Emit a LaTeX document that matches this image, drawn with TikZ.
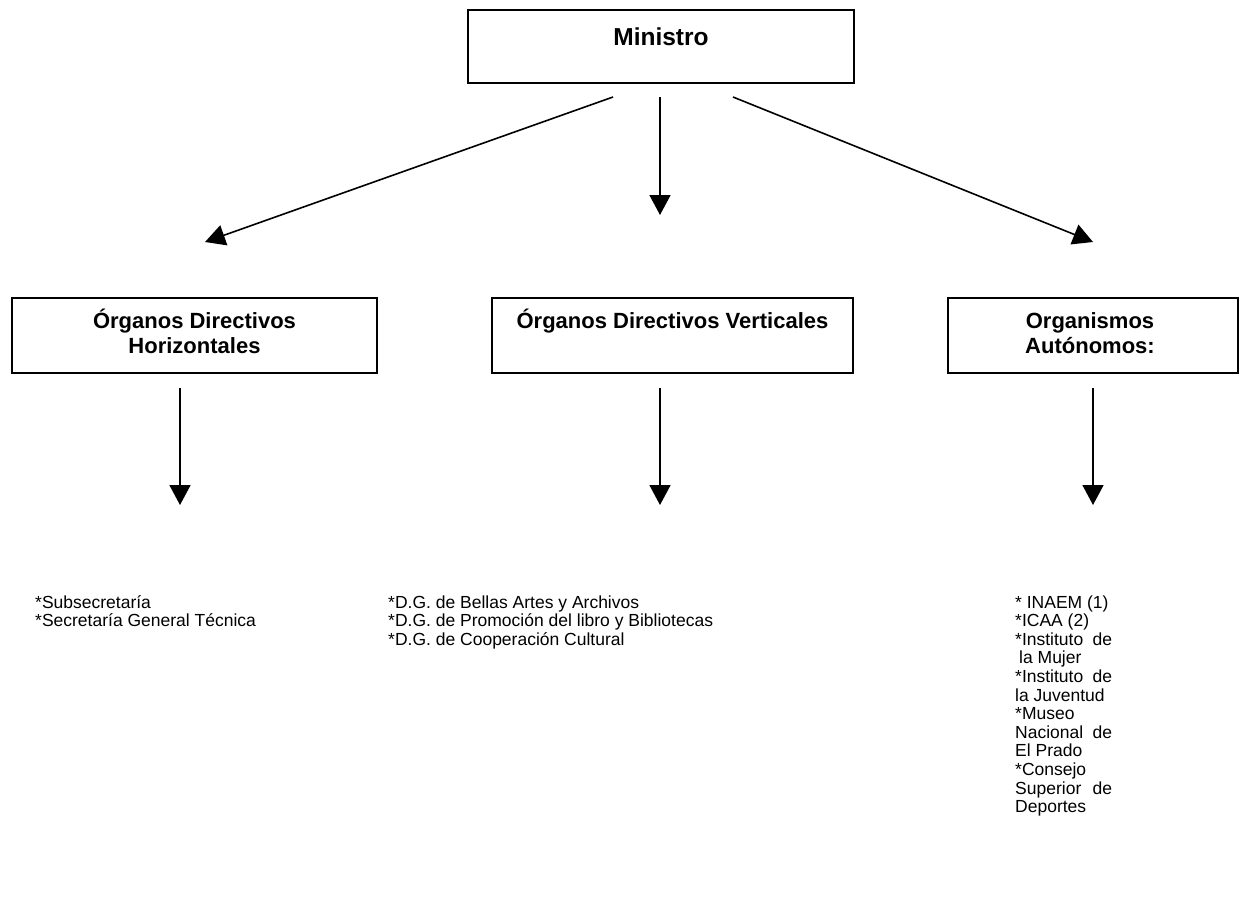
\documentclass[tikz,border=0pt]{standalone}
\usepackage{fontspec}
\setmainfont{Liberation Sans}
\usetikzlibrary{arrows.meta}
\begin{document}
\begin{tikzpicture}[x=1pt,y=-1pt,
  box/.style={draw,line width=1.8pt,inner sep=0pt},
  head/.style={font=\fontsize{22}{25}\selectfont\bfseries,align=center,anchor=base,inner sep=0pt},
  body/.style={font=\fontsize{17.5}{18.6}\selectfont,align=left,anchor=base west,inner sep=0pt},
  arr/.style={line width=1.6pt,-{Triangle[length=20pt,width=21pt]}}]
\useasboundingbox[fill=white] (0,0) rectangle (1242,900);
% boxes
\node[box,minimum width=386pt,minimum height=73pt] (min) at (661,46.5) {};
\node[box,minimum width=365pt,minimum height=75pt] (hor) at (194.5,335.5) {};
\node[box,minimum width=361pt,minimum height=75pt] (ver) at (672.5,335.5) {};
\node[box,minimum width=290pt,minimum height=75pt] (aut) at (1093,335.5) {};
% box titles (anchor base = baseline of last line)
\node[head,font=\fontsize{24.5}{27}\selectfont\bfseries] (minT) at (661,45) {Ministro};
\node[head] (horT) at (194.5,353) {Órganos Directivos\\Horizontales};
\node[head] (verT) at (672.5,328) {Órganos Directivos Verticales};
\node[head] (autT) at (1090,353) {Organismos\\Autónomos:};
% arrow end points
\coordinate (mL) at (613,97);
\coordinate (mC) at (660,97);
\coordinate (mR) at (733,97);
\coordinate (tL) at (205,242);
\coordinate (tC) at (660,215);
\coordinate (tR) at (1093,242);
\coordinate (hS) at (180,388);
\coordinate (hE) at (180,505);
\coordinate (vS) at (660,388);
\coordinate (vE) at (660,505);
\coordinate (aS) at (1093,388);
\coordinate (aE) at (1093,505);
\draw[arr] (mL) -- (tL);
\draw[arr] (mC) -- (tC);
\draw[arr] (mR) -- (tR);
\draw[arr] (hS) -- (hE);
\draw[arr] (vS) -- (vE);
\draw[arr] (aS) -- (aE);
% lists (anchor base = baseline of last line)
\node[body] (hL) at (35,626.6) {*Subsecretaría\\*Secretaría General Técnica};
\node[body] (vL) at (388,645.2) {*D.G. de Bellas Artes y Archivos\\*D.G. de Promoción del libro y Bibliotecas\\*D.G. de Cooperación Cultural};
\node[body] (aL) at (1015,812.6) {* INAEM (1)\\*ICAA (2)\\\hbox to 97pt{*Instituto\hfill de}\\\hspace*{4pt}la Mujer\\\hbox to 97pt{*Instituto\hfill de}\\la Juventud\\*Museo\\\hbox to 97pt{Nacional\hfill de}\\El Prado\\*Consejo\\\hbox to 97pt{Superior\hfill de}\\Deportes};
\end{tikzpicture}
\end{document}
